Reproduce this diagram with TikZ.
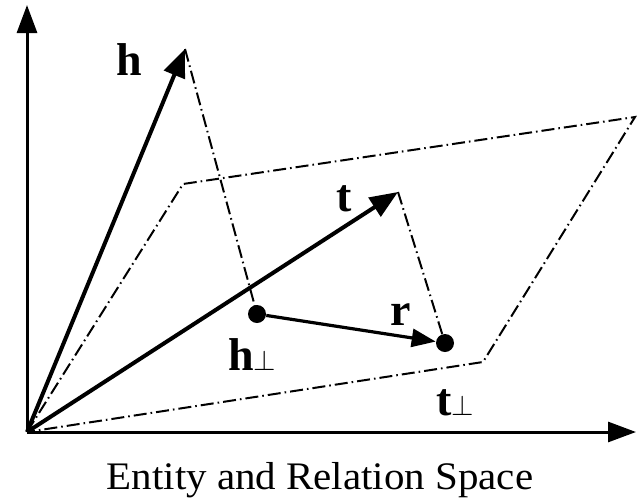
\documentclass[tikz,border=0pt]{standalone}
\usepackage{fontspec}
\setmainfont{Liberation Serif}
\usetikzlibrary{arrows.meta}
\begin{document}
\begin{tikzpicture}[x=0.5pt,y=-0.5pt,
  axis/.style={line width=1.5pt,-{Triangle[length=14pt,width=10pt]}},
  vec/.style={line width=2pt,-{Triangle[length=14pt,width=11pt]}},
  rvec/.style={line width=1.6pt,-{Triangle[length=12pt,width=9pt]}},
  dd/.style={line width=1pt,dash pattern=on 6.5pt off 2pt on 0.8pt off 2pt},
  pt/.style={circle,fill=black,inner sep=0pt,minimum size=9pt},
  lab/.style={font=\fontsize{23}{26}\selectfont\bfseries,inner sep=0pt,anchor=base west},
]
\useasboundingbox (0,0) rectangle (638,499);
\coordinate (O) at (27,432);
\coordinate (Y) at (27,5);
\coordinate (X) at (636,432);
\coordinate (H) at (185,49);
\coordinate (T) at (398,192);
\coordinate (A) at (183,184);
\coordinate (B) at (635,117);
\coordinate (C) at (483,362);
\node[pt] (hp) at (257,314) {};
\node[pt] (tp) at (445,343) {};
% plane
\draw[dd] (O) -- (A) -- (B) -- (C) -- cycle;
% projections
\draw[dd] (H) -- (hp.center);
\draw[dd] (T) -- (tp.center);
% axes
\draw[axis] (O) -- (Y);
\draw[axis] (O) -- (X);
% vectors
\draw[vec] (O) -- (H);
\draw[vec] (O) -- (T);
\draw[rvec] (hp) -- (tp);
% labels
\node[lab] (lh) at (116,75) {h};
\node[lab] (lt) at (336,211) {t};
\node[lab] (lr) at (390,325) {r};
\node[lab] (lhp) at (228,370) {h\textmd{\fontsize{15}{16}\selectfont$\perp$}};
\node[lab] (ltp) at (436,415) {t\textmd{\fontsize{15}{16}\selectfont$\perp$}};
\node[font=\fontsize{19.5}{24}\selectfont,inner sep=0pt,anchor=base] (cap) at (320,489) {\scalebox{1.05}[1]{Entity and Relation Space}};
\end{tikzpicture}
\end{document}
